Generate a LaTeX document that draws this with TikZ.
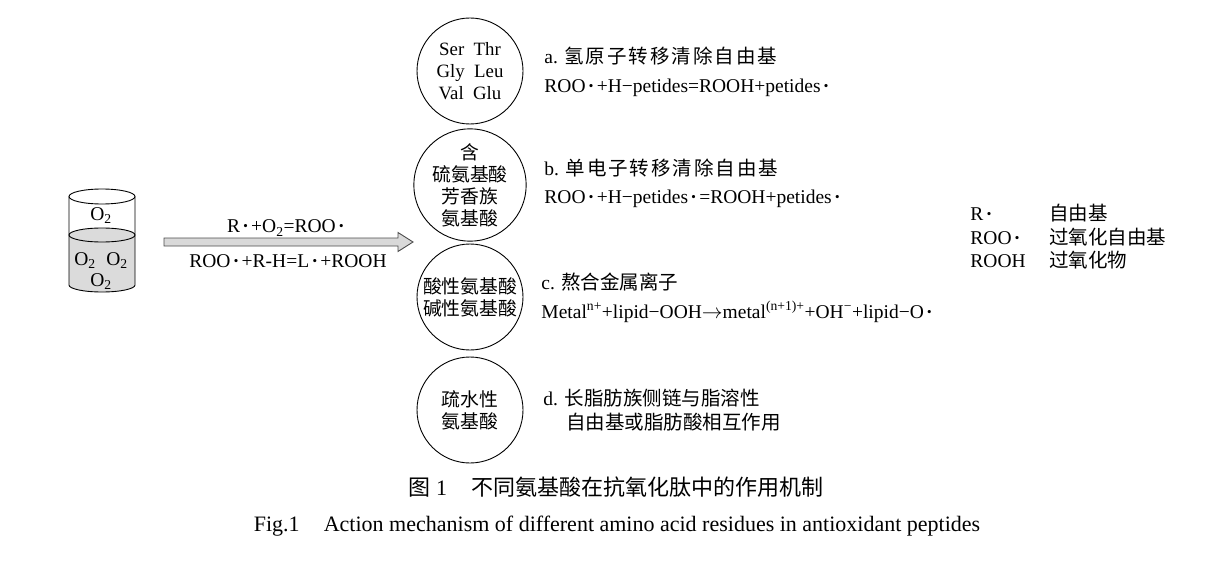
\documentclass[tikz,border=0pt]{standalone}
\usepackage{fontspec}
\setmainfont{Liberation Serif}
\newfontfamily\cjk{Noto Sans CJK SC}
\newfontfamily\cjkwide[LetterSpace=10]{Noto Sans CJK SC}
\usetikzlibrary{calc}
\newcommand\rdot{\kern0.12em\textbf{\textperiodcentered}\kern0.12em}

\begin{document}
\begin{tikzpicture}[x=1pt,y=-1pt,line width=0.9pt,
    acid node/.style={circle,draw,minimum size=106pt,inner sep=0pt,align=center,font=\fontsize{18.8}{22}\selectfont},
    text node/.style={anchor=base west,inner sep=0pt,font=\fontsize{19.5}{22}\selectfont},
    cap node/.style={anchor=base,inner sep=0pt,font=\fontsize{22}{24}\selectfont},
    liquid/.style={fill=black!14},
    block arrow/.style={draw=black!70,fill=black!15,line width=0.9pt}]
    \useasboundingbox (0,0) rectangle (1227,567);

    % beaker
    \fill[liquid] (69,235) -- (69,285) arc[start angle=180,end angle=0,x radius=33,y radius=7]
        -- (135,235) arc[start angle=0,end angle=-180,x radius=33,y radius=7] -- cycle;
    \draw (102,235) ellipse[x radius=33,y radius=7];
    \draw (102,196.5) ellipse[x radius=33,y radius=7.5];
    \draw (69,196.5) -- (69,285) arc[start angle=180,end angle=0,x radius=33,y radius=7] -- (135,196.5);
    \node[text node,anchor=base] (o1) at (101,220) {O\textsubscript{2}};
    \node[text node,anchor=base] (o2) at (85,265) {O\textsubscript{2}};
    \node[text node,anchor=base] (o3) at (117,265) {O\textsubscript{2}};
    \node[text node,anchor=base] (o4) at (101,286) {O\textsubscript{2}};

    % arrow
    \coordinate (as) at (164,242);
    \coordinate (at) at (413,242);
    \draw[block arrow] ($(as)+(0,-4)$) -- ($(at)+(-15,-4)$) -- ($(at)+(-15,-9.5)$) -- (at)
        -- ($(at)+(-15,9.5)$) -- ($(at)+(-15,4)$) -- ($(as)+(0,4)$) -- cycle;
    \node[text node,anchor=base] (r1) at (287,233) {R\rdot+O\textsubscript{2}=ROO\rdot};
    \node[text node,anchor=base] (r2) at (288,267) {ROO\rdot+R-H=L\rdot+ROOH};

    % amino acids
    \node[acid node] (1) at (470,71) {Ser\enspace Thr\\Gly\enspace Leu\\Val\enspace Glu};
    \node[acid node] (2) at (470,185) {\cjk 含\\\cjk 硫氨基酸\\\cjk 芳香族\\\cjk 氨基酸};
    \node[acid node] (3) at (470,297) {\cjk 酸性氨基酸\\\cjk 碱性氨基酸};
    \node[acid node] (4) at (470,410) {\cjk 疏水性\\\cjk 氨基酸};

    % mechanisms
    \node[text node] (a) at (544,64) {a. {\cjkwide 氢原子转移清除自由基}};
    \node[text node] (ea) at (544,93) {ROO\rdot+H\textminus petides=ROOH+petides\rdot};
    \node[text node] (b) at (544,176) {b. {\cjkwide 单电子转移清除自由基}};
    \node[text node] (eb) at (544,204) {ROO\rdot+H\textminus petides\rdot=ROOH+petides\rdot};
    \node[text node] (c) at (541,289) {c. {\cjk 熬合金属离子}};
    \node[text node] (ec) at (541,318) {Metal\textsuperscript{n+}+lipid\textminus OOH$\rightarrow$metal\textsuperscript{(n+1)+}+OH\textsuperscript{\textminus}+lipid\textminus O\rdot};
    \node[text node] (d) at (543,405) {d. {\cjk 长脂肪族侧链与脂溶性}};
    \node[text node] (d2) at (566,429) {\cjk 自由基或脂肪酸相互作用};

    % legend
    \node[text node] (k1) at (970,221) {R\rdot};
    \node[text node] (k2) at (970,244) {ROO\rdot};
    \node[text node] (k3) at (970,267) {ROOH};
    \node[text node] (v1) at (1049,221) {\cjk 自由基};
    \node[text node] (v2) at (1049,244) {\cjk 过氧化自由基};
    \node[text node] (v3) at (1049,267) {\cjk 过氧化物};

    % caption
    \node[cap node] (t1) at (616,495) {{\cjk 图} 1\hspace{1.1em}{\cjk 不同氨基酸在抗氧化肽中的作用机制}};
    \node[cap node] (t2) at (617,531) {Fig.1\hspace{1.1em}Action mechanism of different amino acid residues in antioxidant peptides};
\end{tikzpicture}
\end{document}
